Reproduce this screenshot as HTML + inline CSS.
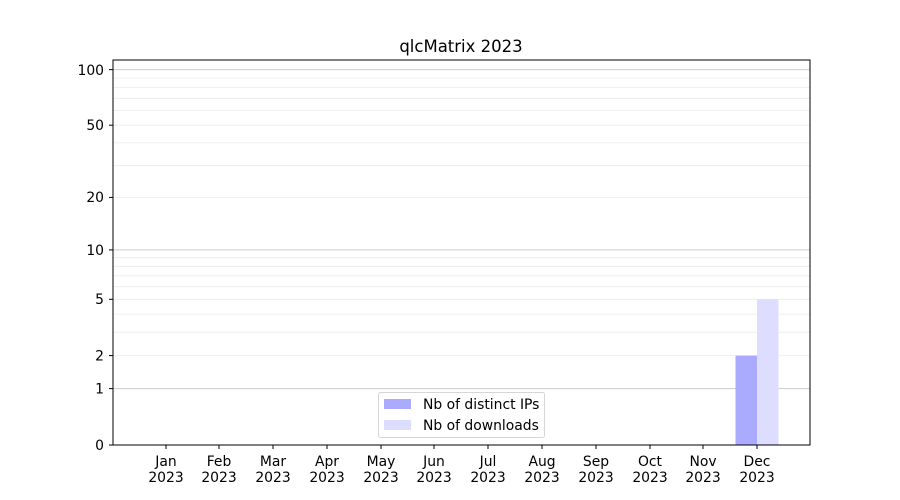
<!DOCTYPE html>
<html><head><meta charset="utf-8"><style>body{margin:0;background:#fff}svg{display:block}text{font-family:"DejaVu Sans","Liberation Sans",sans-serif;font-size:13.9px;fill:#000}</style></head>
<body>
<svg width="900" height="500" viewBox="0 0 900 500">
<rect width="900" height="500" fill="#fff"/>
<g stroke="#ebebeb" stroke-width="0.8">
<line x1="113" x2="810" y1="332.2" y2="332.2"/><line x1="113" x2="810" y1="314.1" y2="314.1"/>
<line x1="113" x2="810" y1="299.3" y2="299.3"/><line x1="113" x2="810" y1="286.7" y2="286.7"/>
<line x1="113" x2="810" y1="275.8" y2="275.8"/><line x1="113" x2="810" y1="266.3" y2="266.3"/>
<line x1="113" x2="810" y1="257.7" y2="257.7"/><line x1="113" x2="810" y1="197.4" y2="197.4"/>
<line x1="113" x2="810" y1="165.7" y2="165.7"/><line x1="113" x2="810" y1="142.9" y2="142.9"/>
<line x1="113" x2="810" y1="125.2" y2="125.2"/><line x1="113" x2="810" y1="110.6" y2="110.6"/>
<line x1="113" x2="810" y1="98.3" y2="98.3"/><line x1="113" x2="810" y1="87.6" y2="87.6"/>
<line x1="113" x2="810" y1="78.1" y2="78.1"/><line x1="113" x2="810" y1="355.6" y2="355.6"/>
</g>
<g stroke="#cccccc" stroke-width="1">
<line x1="113" x2="810" y1="388.6" y2="388.6"/><line x1="113" x2="810" y1="249.9" y2="249.9"/><line x1="113" x2="810" y1="69.6" y2="69.6"/>
</g>
<rect x="735.5" y="355.6" width="21.5" height="89.4" fill="#aaaaff"/>
<rect x="757" y="299.3" width="21.5" height="145.7" fill="#ddddff"/>
<rect x="113" y="60" width="697" height="385" fill="none" stroke="#000" stroke-width="1"/>
<g stroke="#000" stroke-width="1">
<line x1="109" x2="113" y1="445" y2="445"/><line x1="109" x2="113" y1="388.6" y2="388.6"/>
<line x1="109" x2="113" y1="355.6" y2="355.6"/><line x1="109" x2="113" y1="299.3" y2="299.3"/>
<line x1="109" x2="113" y1="249.9" y2="249.9"/><line x1="109" x2="113" y1="197.4" y2="197.4"/>
<line x1="109" x2="113" y1="125.2" y2="125.2"/><line x1="109" x2="113" y1="69.6" y2="69.6"/>
</g>
<g text-anchor="end">
<text x="104" y="450">0</text><text x="104" y="393.5">1</text><text x="104" y="360.5">2</text>
<text x="104" y="304">5</text><text x="104" y="255">10</text><text x="104" y="202">20</text>
<text x="104" y="130">50</text><text x="104" y="75">100</text>
</g>
<g stroke="#000" stroke-width="1">
<line x1="166" x2="166" y1="445" y2="449"/><line x1="219" x2="219" y1="445" y2="449"/>
<line x1="273" x2="273" y1="445" y2="449"/><line x1="327" x2="327" y1="445" y2="449"/>
<line x1="381" x2="381" y1="445" y2="449"/><line x1="434" x2="434" y1="445" y2="449"/>
<line x1="488" x2="488" y1="445" y2="449"/><line x1="542" x2="542" y1="445" y2="449"/>
<line x1="596" x2="596" y1="445" y2="449"/><line x1="650" x2="650" y1="445" y2="449"/>
<line x1="703" x2="703" y1="445" y2="449"/><line x1="757" x2="757" y1="445" y2="449"/>
</g>
<g text-anchor="middle">
<text x="166" y="466">Jan</text><text x="166" y="482">2023</text>
<text x="219" y="466">Feb</text><text x="219" y="482">2023</text>
<text x="273" y="466">Mar</text><text x="273" y="482">2023</text>
<text x="327" y="466">Apr</text><text x="327" y="482">2023</text>
<text x="381" y="466">May</text><text x="381" y="482">2023</text>
<text x="434" y="466">Jun</text><text x="434" y="482">2023</text>
<text x="488" y="466">Jul</text><text x="488" y="482">2023</text>
<text x="542" y="466">Aug</text><text x="542" y="482">2023</text>
<text x="596" y="466">Sep</text><text x="596" y="482">2023</text>
<text x="650" y="466">Oct</text><text x="650" y="482">2023</text>
<text x="703" y="466">Nov</text><text x="703" y="482">2023</text>
<text x="757" y="466">Dec</text><text x="757" y="482">2023</text>
</g>
<text x="461" y="52" text-anchor="middle" style="font-size:16.5px">qlcMatrix 2023</text>
<rect x="378.5" y="392.5" width="166" height="45" rx="2" fill="#fff" fill-opacity="0.8" stroke="#d6d6d6"/>
<rect x="384" y="399" width="27" height="10" fill="#aaaaff"/>
<rect x="384" y="420" width="27" height="10" fill="#ddddff"/>
<text x="423" y="409">Nb of distinct IPs</text>
<text x="423" y="430">Nb of downloads</text>
</svg>
</body></html>
